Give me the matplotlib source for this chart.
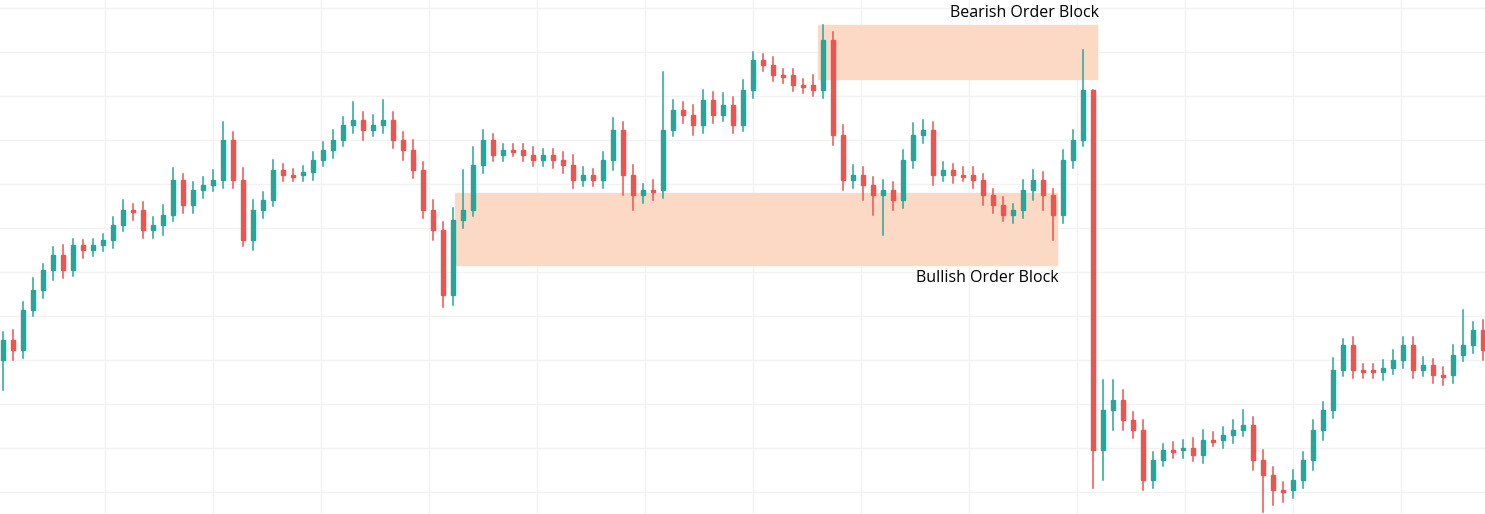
import matplotlib
matplotlib.use("Agg")
import matplotlib.pyplot as plt
from matplotlib.patches import Rectangle

first_open = 360
closes = [340,350,310,290,270,255,270,245,250,245,
          240,225,210,210,230,225,215,180,205,190,
          185,180,140,180,240,210,200,170,175,175,
          172,160,150,140,125,120,130,125,120,140,
          150,170,210,230,295,220,210,165,140,155,
          150,150,155,160,155,160,165,180,175,180,
          160,130,175,195,190,190,130,110,115,125,
          100,115,105,125,90,60,65,75,75,85,
          85,90,40,135,180,175,185,195,190,200,
          160,135,130,175,170,175,175,180,195,205,
          215,210,190,180,195,215,160,140,90,450,
          410,400,420,430,480,460,450,450,448,455,
          440,440,435,430,425,460,475,490,490,480,
          460,430,410,370,345,370,370,372,368,360,
          345,370,365,375,375,355,345,330,350]
wick_up = [8,10,8,12,6,8,10,6,5,6,
           6,8,10,6,8,8,10,12,6,8,
           8,10,18,8,12,10,8,10,6,6,
           6,8,8,10,8,18,8,10,20,8,
           8,10,8,10,8,12,40,18,10,6,
           6,6,6,8,6,6,8,10,8,6,
           8,12,8,10,6,10,58,10,8,10,
           10,8,12,8,10,8,6,8,6,6,
           6,10,15,8,10,10,8,8,10,8,
           10,12,10,8,8,6,8,8,6,6,
           8,6,10,10,8,6,10,10,40,0,
           30,20,10,8,10,8,6,8,8,10,
           10,8,8,10,15,8,10,8,8,10,
           8,10,8,12,6,8,6,6,8,10,
           8,8,8,6,8,10,35,8,10]
wick_down = [30,10,8,6,8,10,8,6,8,6,
             6,8,6,10,8,8,10,6,8,8,
             8,6,8,8,6,10,8,6,6,6,
             6,8,6,8,6,8,10,6,8,8,
             10,8,8,10,12,10,8,6,8,6,
             6,6,6,6,6,8,8,8,6,6,
             8,10,20,15,8,10,8,6,8,10,
             8,8,6,8,6,8,6,6,8,6,
             8,6,8,10,10,8,15,20,40,10,
             8,8,8,10,6,8,6,8,10,8,
             6,8,8,10,15,25,8,8,6,38,
             30,20,10,8,10,8,6,8,8,6,
             8,6,8,8,6,10,37,15,12,8,
             8,10,10,8,6,8,8,6,8,6,
             8,8,6,8,10,8,6,8,10]

fig = plt.figure(figsize=(14.85, 5.14), dpi=100)
ax = fig.add_axes([0, 0, 1, 1])
ax.set_xlim(0, 1485)
ax.set_ylim(514, 0)
for gx in range(105, 1485, 108):
    ax.axvline(gx, color="#f2f2f2", lw=1, zorder=0)
for gy in range(8, 514, 44):
    ax.axhline(gy, color="#f2f2f2", lw=1, zorder=0)

ax.add_patch(Rectangle((818, 25), 279, 54, color="#fcd9c4", zorder=1))
ax.add_patch(Rectangle((455, 193), 602, 72, color="#fcd9c4", zorder=1))

o = first_open
for i, c in enumerate(closes):
    x = 10 * i + 3
    col = "#26a69a" if c < o else "#ef5350"
    top = min(o, c) - wick_up[i]
    bot = max(o, c) + wick_down[i]
    ax.plot([x, x], [top, bot], color=col, lw=1.1, zorder=2)
    h = max(abs(c - o), 1.5)
    ax.add_patch(Rectangle((x - 2.3, min(o, c)), 4.6, h, color=col, zorder=3))
    o = c

ax.text(1099, 13, "Bearish Order Block", ha="right", va="center", fontsize=11.5, family="Open Sans")
ax.text(1059, 278, "Bullish Order Block", ha="right", va="center", fontsize=11.5, family="Open Sans")
ax.axis("off")
fig.savefig("out.png", dpi=100)
